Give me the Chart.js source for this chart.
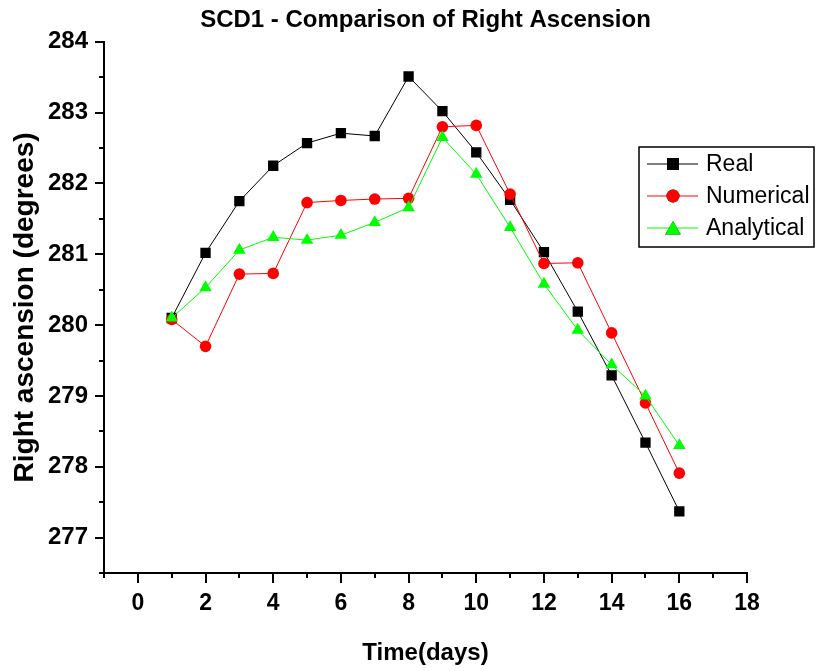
<!DOCTYPE html>
<html>
<head>
<meta charset="utf-8">
<title>SCD1 - Comparison of Right Ascension</title>
<script src="https://cdn.jsdelivr.net/npm/chart.js@4.4.1/dist/chart.umd.min.js"></script>
<style>
  html, body { margin: 0; padding: 0; background: #fff; }
  #wrap { width: 816px; height: 671px; }
</style>
</head>
<body>
<div id="wrap"><canvas id="myChart" width="816" height="671"></canvas></div>
<script>
// values
var days = [1, 2, 3, 4, 5, 6, 7, 8, 9, 10, 11, 12, 13, 14, 15, 16];
var real = [280.1, 281.02, 281.75, 282.25, 282.57, 282.71, 282.67, 283.51, 283.02, 282.44, 281.77, 281.03, 280.19, 279.29, 278.34, 277.37];
var numerical = [280.08, 279.7, 280.72, 280.73, 281.73, 281.76, 281.78, 281.79, 282.8, 282.82, 281.85, 280.87, 280.88, 279.89, 278.9, 277.91];
var analytical = [280.1, 280.53, 281.06, 281.24, 281.2, 281.27, 281.45, 281.66, 282.65, 282.13, 281.38, 280.58, 279.93, 279.44, 279.0, 278.3];
var xTicks = [0, 2, 4, 6, 8, 10, 12, 14, 16, 18];
var yTicks = [277, 278, 279, 280, 281, 282, 283, 284];

var FONT = "'Liberation Sans', Arial, sans-serif";

function pts(vals) {
  return days.map(function (d, i) { return { x: d, y: vals[i] }; });
}

// tick marks, major and minor, drawn outside the axes
var tickMarks = {
  id: "tickMarks",
  afterDraw: function (chart) {
    var ctx = chart.ctx;
    var xs = chart.scales.x, ys = chart.scales.y;
    var area = chart.chartArea;
    ctx.save();
    ctx.strokeStyle = "#000";
    ctx.lineWidth = 2;
    ctx.beginPath();
    for (var v = xs.min; v <= xs.max; v += 1) {
      var px = Math.round(xs.getPixelForValue(v));
      var len = xTicks.indexOf(v) >= 0 ? 10 : 5;
      ctx.moveTo(px, area.bottom);
      ctx.lineTo(px, area.bottom + len);
    }
    for (var w = ys.min; w <= ys.max + 0.001; w += 0.5) {
      var py = Math.round(ys.getPixelForValue(w));
      var l2 = yTicks.indexOf(w) >= 0 ? 9 : 5;
      ctx.moveTo(area.left, py);
      ctx.lineTo(area.left - l2, py);
    }
    ctx.stroke();
    ctx.restore();
  }
};

// boxed legend inside the plot, line - marker - line
var legendSizes = [8.5, 6.5, 9];
var boxLegend = {
  id: "boxLegend",
  afterDraw: function (chart) {
    var ctx = chart.ctx;
    var left = 639, top = 147, w = 175, h = 100;
    ctx.save();
    ctx.strokeStyle = "#000";
    ctx.lineWidth = 1.5;
    ctx.strokeRect(left, top, w, h);
    ctx.font = "23px " + FONT;
    ctx.textBaseline = "middle";
    chart.data.datasets.forEach(function (ds, i) {
      var y = 164 + i * 32;
      ctx.strokeStyle = ds.borderColor;
      ctx.lineWidth = 1;
      ctx.beginPath();
      ctx.moveTo(647, y);
      ctx.lineTo(698, y);
      ctx.stroke();
      var my = ds.pointStyle === "triangle" ? y + 2 : y;
      Chart.helpers.drawPoint(ctx, {
        pointStyle: ds.pointStyle,
        radius: legendSizes[i],
        rotation: 0,
        borderWidth: 0
      }, 673, my);
      ctx.fillStyle = ds.pointBackgroundColor;
      ctx.fill();
      ctx.fillStyle = "#000";
      ctx.fillText(ds.label, 706, y + 1);
    });
    ctx.restore();
  }
};

var ctx = document.getElementById("myChart");

var myChart = new Chart(ctx, {
  type: "line",
  data: {
    datasets: [
      {
        label: "Real",
        data: pts(real),
        borderColor: "#000000",
        borderWidth: 1,
        pointStyle: "rect",
        pointRadius: 7.3,
        pointBackgroundColor: "#000000",
        pointBorderWidth: 0,
        order: 2
      },
      {
        label: "Numerical",
        data: pts(numerical),
        borderColor: "#ff0000",
        borderWidth: 1,
        pointStyle: "circle",
        pointRadius: 5.8,
        pointBackgroundColor: "#ff0000",
        pointBorderWidth: 0,
        order: 1
      },
      {
        label: "Analytical",
        data: pts(analytical),
        borderColor: "#00ff00",
        borderWidth: 1,
        pointStyle: "triangle",
        pointRadius: 7.2,
        pointBackgroundColor: "#00ff00",
        pointBorderWidth: 0,
        order: 0
      }
    ]
  },
  options: {
    responsive: false,
    animation: false,
    layout: { padding: { left: 0, right: 69, top: 0, bottom: 0 } },
    plugins: {
      legend: { display: false },
      tooltip: { enabled: false },
      title: {
        display: true,
        text: "SCD1 - Comparison of Right Ascension",
        fullSize: false,
        color: "#000",
        font: { family: FONT, size: 24, weight: "bold" },
        padding: { top: 6, bottom: 7 }
      }
    },
    scales: {
      x: {
        type: "linear",
        min: -1,
        max: 18,
        afterFit: function (scale) { scale.height = 98; },
        grid: { display: false, drawTicks: false },
        border: { display: true, color: "#000", width: 2 },
        ticks: {
          stepSize: 1,
          autoSkip: false,
          maxRotation: 0,
          padding: 17,
          color: "#000",
          font: { family: FONT, size: 23, weight: "bold" },
          callback: function (v) { return xTicks.indexOf(v) >= 0 ? v : ""; }
        },
        title: {
          display: true,
          text: "Time(days)",
          color: "#000",
          font: { family: FONT, size: 24, weight: "bold" },
          padding: { top: 0, bottom: 3 }
        }
      },
      y: {
        min: 276.5,
        max: 284,
        afterFit: function (scale) { scale.width = 104; },
        grid: { display: false, drawTicks: false },
        border: { display: true, color: "#000", width: 2 },
        ticks: {
          stepSize: 1,
          autoSkip: false,
          padding: 16,
          color: "#000",
          font: { family: FONT, size: 24, weight: "bold" },
          callback: function (v) { return yTicks.indexOf(v) >= 0 ? v : ""; }
        },
        title: {
          display: true,
          text: "Right ascension (degrees)",
          color: "#000",
          font: { family: FONT, size: 28, weight: "bold" },
          padding: { top: 8, bottom: 0 }
        }
      }
    }
  },
  plugins: [tickMarks, boxLegend]
});
</script>
</body>
</html>
